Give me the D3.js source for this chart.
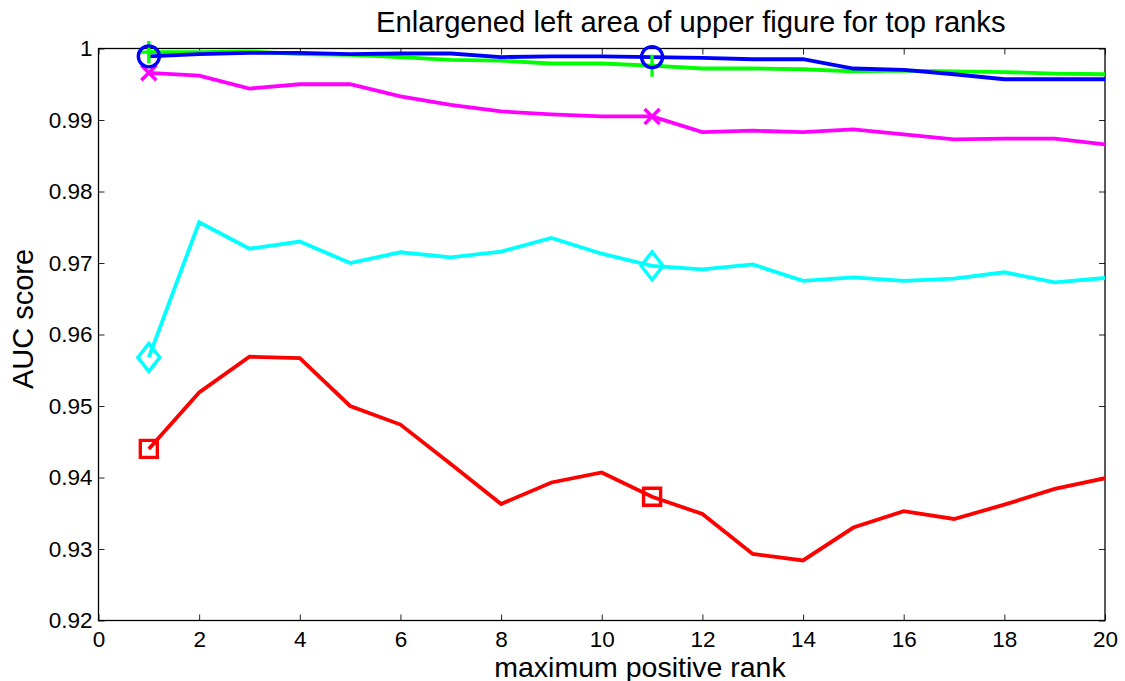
<!DOCTYPE html>
<html>
<head>
<meta charset="utf-8">
<script src="https://cdn.jsdelivr.net/npm/d3@7"></script>
<style>
  html, body { margin: 0; padding: 0; background: #fff; }
  svg { display: block; font-family: "Liberation Sans", Arial, Helvetica, sans-serif; }
</style>
</head>
<body>
<svg id="chart" width="1125" height="681"></svg>
<script>
// Maximum positive rank (x values)
const ranks = d3.range(1, 21);

// AUC score per method, one value per rank
const greenValues = [0.9995, 0.9995, 0.9996, 0.9992, 0.9991, 0.9988, 0.9984, 0.9983, 0.9979, 0.9979,
                     0.9976, 0.9972, 0.9972, 0.9971, 0.9968, 0.9969, 0.9968, 0.9967, 0.9965, 0.9964];
const blueValues = [0.9989, 0.9992, 0.9994, 0.9994, 0.9992, 0.9993, 0.9993, 0.9988, 0.9989, 0.9989,
                    0.9988, 0.9987, 0.9985, 0.9985, 0.9972, 0.9970, 0.9964, 0.9957, 0.9957, 0.9957];
const magentaValues = [0.9966, 0.9962, 0.9944, 0.9950, 0.9950, 0.9933, 0.9921, 0.9912, 0.9908, 0.9905,
                       0.9905, 0.9883, 0.9885, 0.9883, 0.9887, 0.9880, 0.9873, 0.9874, 0.9874, 0.9866];
const cyanValues = [0.9568, 0.9757, 0.9720, 0.9730, 0.9700, 0.9715, 0.9708, 0.9716, 0.9735, 0.9713,
                    0.9696, 0.9691, 0.9698, 0.9675, 0.9680, 0.9675, 0.9678, 0.9687, 0.9673, 0.9679];
const redValues = [0.9440, 0.9519, 0.9569, 0.9567, 0.9500, 0.9474, 0.9419, 0.9363, 0.9393, 0.9407,
                   0.9373, 0.9349, 0.9293, 0.9284, 0.9330, 0.9353, 0.9342, 0.9362, 0.9384, 0.9399];

// Ranks where a marker is placed on each curve
const markerRanks = [1, 11];

// Axis ticks
const xTicks = [0, 2, 4, 6, 8, 10, 12, 14, 16, 18, 20];
const yTicks = [0.92, 0.93, 0.94, 0.95, 0.96, 0.97, 0.98, 0.99, 1];
const yTickLabels = ["0.92", "0.93", "0.94", "0.95", "0.96", "0.97", "0.98", "0.99", "1"];

const series = [
  { values: redValues,     color: "#ff0000", marker: "square" },
  { values: cyanValues,    color: "#00ffff", marker: "diamond" },
  { values: magentaValues, color: "#ff00ff", marker: "cross" },
  { values: greenValues,   color: "#00ff00", marker: "plus" },
  { values: blueValues,    color: "#0000ff", marker: "circle" }
];

const svg = d3.select("#chart");
const plotLeft = 98.5, plotRight = 1105, plotTop = 48.5, plotBottom = 620.5;
const tickFont = 22.5;
const labelFont = 29;

const x = d3.scaleLinear().domain([0, 20]).range([plotLeft, plotRight]);
const y = d3.scaleLinear().domain([0.92, 1]).range([plotBottom, plotTop]);

// Plot area clip so lines stay inside the box
svg.append("defs").append("clipPath").attr("id", "plotClip")
  .append("rect").attr("x", plotLeft).attr("y", plotTop - 20)
  .attr("width", plotRight - plotLeft).attr("height", plotBottom - plotTop + 20);

const tickLen = 6;
const tickColor = "#222";

// Bottom axis with inward ticks
const xAxis = d3.axisBottom(x).tickValues(xTicks).tickSize(-tickLen).tickPadding(10.5)
  .tickFormat(d3.format("d"));
const gx = svg.append("g").attr("transform", `translate(0,${plotBottom})`).call(xAxis);
gx.select(".domain").remove();
gx.selectAll("line").attr("stroke", tickColor);
gx.selectAll("text").attr("font-size", tickFont).attr("fill", "#000")
  .attr("font-family", "'Liberation Sans', Arial, sans-serif").attr("dy", "0.72em");

// Top axis (ticks only)
const gxTop = svg.append("g").attr("transform", `translate(0,${plotTop})`)
  .call(d3.axisTop(x).tickValues(xTicks).tickSize(-tickLen).tickFormat(""));
gxTop.select(".domain").remove();
gxTop.selectAll("line").attr("stroke", tickColor);

// Left axis with inward ticks
const yAxis = d3.axisLeft(y).tickValues(yTicks).tickSize(-tickLen).tickPadding(6)
  .tickFormat((d, i) => yTickLabels[i]);
const gy = svg.append("g").attr("transform", `translate(${plotLeft},0)`).call(yAxis);
gy.select(".domain").remove();
gy.selectAll("line").attr("stroke", tickColor);
gy.selectAll("text").attr("font-size", tickFont).attr("fill", "#000")
  .attr("font-family", "'Liberation Sans', Arial, sans-serif");

// Right axis (ticks only)
const gyRight = svg.append("g").attr("transform", `translate(${plotRight},0)`)
  .call(d3.axisRight(y).tickValues(yTicks).tickSize(-tickLen).tickFormat(""));
gyRight.select(".domain").remove();
gyRight.selectAll("line").attr("stroke", tickColor);

// Box around the plot area
svg.append("rect")
  .attr("x", plotLeft).attr("y", plotTop)
  .attr("width", plotRight - plotLeft).attr("height", plotBottom - plotTop)
  .attr("fill", "none").attr("stroke", "#000").attr("stroke-width", 1.3);

// Curves
const line = d3.line().x((d, i) => x(ranks[i])).y(d => y(d));
const plot = svg.append("g").attr("clip-path", "url(#plotClip)");

series.forEach(s => {
  plot.append("path")
    .datum(s.values)
    .attr("d", line)
    .attr("fill", "none")
    .attr("stroke", s.color)
    .attr("stroke-width", 3.8)
    .attr("stroke-linejoin", "miter");
});

// Markers
function markerPath(type) {
  const p = d3.path();
  if (type === "square") {
    p.rect(-8.5, -8.5, 17, 17);
  } else if (type === "diamond") {
    p.moveTo(0, -14); p.lineTo(11, 0); p.lineTo(0, 14); p.lineTo(-11, 0); p.closePath();
  } else if (type === "cross") {
    p.moveTo(-7.5, -7.5); p.lineTo(7.5, 7.5); p.moveTo(-7.5, 7.5); p.lineTo(7.5, -7.5);
  } else if (type === "plus") {
    p.moveTo(0, -11); p.lineTo(0, 11); p.moveTo(-11, 0); p.lineTo(11, 0);
  } else if (type === "circle") {
    p.arc(0, 0, 10.5, 0, 2 * Math.PI);
  }
  return p.toString();
}

series.forEach(s => {
  plot.selectAll(null)
    .data(markerRanks)
    .enter()
    .append("path")
    .attr("transform", r => `translate(${x(r)},${y(s.values[ranks.indexOf(r)])})`)
    .attr("d", markerPath(s.marker))
    .attr("fill", "none")
    .attr("stroke", s.color)
    .attr("stroke-width", 3.4);
});

// Title and axis labels
svg.append("text")
  .attr("x", 376).attr("y", 32)
  .attr("text-anchor", "start").attr("font-size", 29.2).attr("fill", "#000")
  .text("Enlargened left area of upper figure for top ranks");

svg.append("text")
  .attr("x", 640).attr("y", 676.5)
  .attr("text-anchor", "middle").attr("font-size", 28.5).attr("fill", "#000")
  .text("maximum positive rank");

svg.append("text")
  .attr("transform", `translate(33,319) rotate(-90)`)
  .attr("text-anchor", "middle").attr("font-size", labelFont).attr("fill", "#000")
  .text("AUC score");
</script>
</body>
</html>
